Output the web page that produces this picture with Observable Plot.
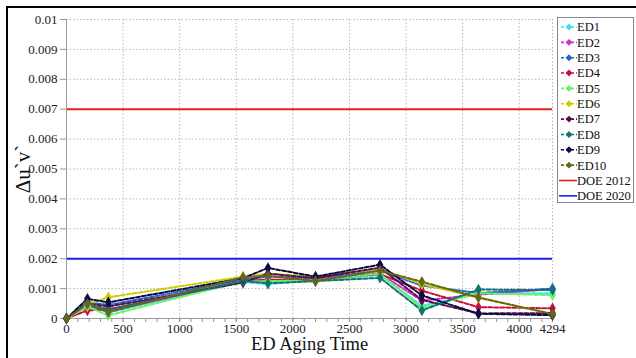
<!DOCTYPE html>
<html>
<head>
<meta charset="utf-8">
<script src="https://cdn.jsdelivr.net/npm/d3@7"></script>
<script src="https://cdn.jsdelivr.net/npm/@observablehq/plot@0.6"></script>
<style>
  html, body { margin: 0; padding: 0; background: #fff; }
  #wrap { position: relative; width: 636px; height: 358px; overflow: hidden; font-family: "Liberation Serif", serif; }
  #wrap svg, #wrap svg text, #wrap svg g { font-family: "Liberation Serif", "Times New Roman", serif !important; }
  #frame { position: absolute; left: 6px; top: 6px; width: 700px; height: 500px; border-top: 2px solid #000; border-left: 2px solid #000; pointer-events: none; }
  #legend { position: absolute; left: 557px; top: 17px; width: 75px; height: 184px; border: 1px solid #888; background: #fff; }
</style>
</head>
<body>
<div id="wrap"><div id="chart"></div><div id="frame"></div><div id="legend"></div></div>
<script>
const agingTime = [0, 185, 370, 1560, 1780, 2200, 2770, 3140, 3640, 4294];
const seriesNames = ["ED1","ED2","ED3","ED4","ED5","ED6","ED7","ED8","ED9","ED10"];
const seriesColors = ["#3fe3e3","#cc33cc","#2166c8","#c8103e","#66f566","#cccc00","#5e0a4e","#127272","#0a0a44","#66661a"];
const ED1  = [0, 0.00045, 0.00020, 0.00122, 0.00115, 0.00128, 0.00145, 0.00043, 0.00082, 0.00085];
const ED2  = [0, 0.00040, 0.00025, 0.00124, 0.00130, 0.00130, 0.00150, 0.00060, 0.00080, 0.00098];
const ED3  = [0, 0.00055, 0.00045, 0.00130, 0.00140, 0.00135, 0.00160, 0.00110, 0.00085, 0.00100];
const ED4  = [0, 0.00027, 0.00030, 0.00125, 0.00130, 0.00130, 0.00149, 0.00093, 0.00038, 0.00034];
const ED5  = [0, 0.00040, 0.00010, 0.00125, 0.00125, 0.00128, 0.00150, 0.00035, 0.00085, 0.00078];
const ED6  = [0, 0.00048, 0.00071, 0.00140, 0.00150, 0.00140, 0.00166, 0.00115, 0.00070, 0.00015];
const ED7  = [0, 0.00050, 0.00040, 0.00120, 0.00150, 0.00135, 0.00170, 0.00062, 0.00017, 0.00018];
const ED8  = [0, 0.00050, 0.00030, 0.00125, 0.00118, 0.00125, 0.00136, 0.00027, 0.00097, 0.00095];
const ED9  = [0, 0.00066, 0.00054, 0.00135, 0.00169, 0.00140, 0.00180, 0.00077, 0.00016, 0.00011];
const ED10 = [0, 0.00049, 0.00021, 0.00138, 0.00143, 0.00125, 0.00160, 0.00123, 0.00070, 0.00015];
const seriesValues = [ED1, ED2, ED3, ED4, ED5, ED6, ED7, ED8, ED9, ED10];
const doeNames = ["DOE 2012", "DOE 2020"];
const doeValues = [0.007, 0.002];
const doeColors = ["#e8201c", "#1c1ce8"];
const xTickLabels = [0, 500, 1000, 1500, 2000, 2500, 3000, 3500, 4000, 4294];
const yTickLabels = [0, 0.001, 0.002, 0.003, 0.004, 0.005, 0.006, 0.007, 0.008, 0.009, 0.01];
const xLabel = "ED Aging Time";
const yLabel = "Δu`v`";

const FONT = "Liberation Serif";
const rows = seriesNames.flatMap((name, i) => agingTime.map((t, j) => ({series: name, t, v: seriesValues[i][j]})));
const doeRows = doeNames.map((n, i) => ({name: n, v: doeValues[i], c: doeColors[i]}));

const gridX = xTickLabels.filter(d => d > 0);
const gridY = yTickLabels.filter(d => d > 0);
const minorX = d3.range(0, 4294, 100).concat([4294]);

const chart = Plot.plot({
  width: 636, height: 358,
  marginLeft: 66, marginRight: 84, marginTop: 19, marginBottom: 40,
  style: {fontFamily: FONT, background: "transparent", overflow: "visible"},
  x: {domain: [0, 4294]},
  y: {domain: [0, 0.01]},
  color: {type: "ordinal", domain: seriesNames, range: seriesColors},
  marks: [
    Plot.ruleX(gridX, {stroke: "#b8b8b8", strokeDasharray: "1.5,2"}),
    Plot.ruleY(gridY, {stroke: "#b8b8b8", strokeDasharray: "1.5,2"}),
    Plot.ruleY(doeRows, {y: "v", stroke: "c", strokeWidth: 2}),
    Plot.ruleX([0], {stroke: "#999"}),
    Plot.ruleY([0], {stroke: "#999"}),
    Plot.axisX({ticks: minorX, tickSize: 4, tickFormat: () => "", stroke: "#999", label: null}),
    Plot.axisX({ticks: xTickLabels, tickSize: 4, tickPadding: 1, fontSize: 13, fontFamily: FONT, stroke: "#999", color: "#222", label: null,
      tickFormat: d => String(d)}),
    Plot.axisY({ticks: yTickLabels, tickSize: 6, tickPadding: 3, fontSize: 13, fontFamily: FONT, stroke: "#999", color: "#222", label: null,
      tickFormat: d => String(+d.toFixed(3))}),
    Plot.line(rows, {x: "t", y: "v", z: "series", stroke: "series", strokeWidth: 2, strokeDasharray: "4,2"}),
    Plot.dot(rows, {x: "t", y: "v", fill: "series", symbol: "diamond", r: 3.5}),
    Plot.text([xLabel], {frameAnchor: "bottom", dy: 31.5, fontSize: 18.5, fontFamily: FONT, fill: "#111"}),
    Plot.text([yLabel], {frameAnchor: "left", textAnchor: "middle", dx: -43, rotate: -90, fontSize: 21, fontFamily: FONT, fill: "#111"})
  ]
});
document.getElementById("chart").appendChild(chart);

// legend
const legendEntries = seriesNames.map((n, i) => ({name: n, color: seriesColors[i], dashed: true}))
  .concat(doeNames.map((n, i) => ({name: n, color: doeColors[i], dashed: false})));
const lsvg = d3.select("#legend").append("svg").attr("width", 75).attr("height", 184);
legendEntries.forEach((e, i) => {
  const y = 9 + i * 15.35;
  const g = lsvg.append("g");
  if (e.dashed) {
    g.append("line").attr("x1", 3).attr("x2", 19).attr("y1", y).attr("y2", y)
      .attr("stroke", e.color).attr("stroke-width", 1.6).attr("stroke-dasharray", "3,2");
    g.append("path").attr("d", d3.symbol(d3.symbolDiamond2, 30)()).attr("transform", `translate(11,${y})`).attr("fill", e.color);
  } else {
    g.append("line").attr("x1", 1).attr("x2", 19).attr("y1", y).attr("y2", y)
      .attr("stroke", e.color).attr("stroke-width", 1.6);
  }
  g.append("text").attr("x", 19).attr("y", y).attr("dy", "0.35em").attr("font-size", 12.5)
    .attr("font-family", FONT).attr("fill", "#111").text(e.name);
});
</script>
</body>
</html>
